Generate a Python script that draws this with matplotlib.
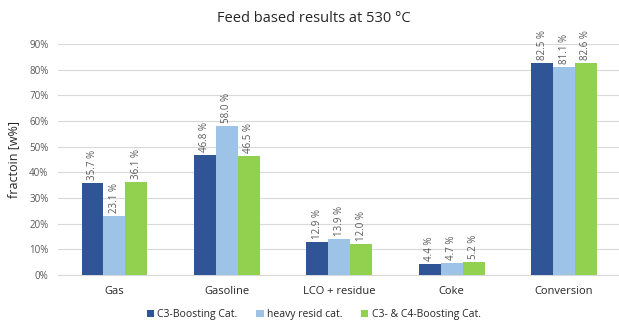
import matplotlib
matplotlib.use("Agg")
import matplotlib.pyplot as plt
import numpy as np
from matplotlib.ticker import FuncFormatter

categories = ["Gas", "Gasoline", "LCO + residue", "Coke", "Conversion"]
series_names = ["C3-Boosting Cat.", "heavy resid cat.", "C3- & C4-Boosting Cat."]
c3_boost = [35.7, 46.8, 12.9, 4.4, 82.5]
heavy_resid = [23.1, 58.0, 13.9, 4.7, 81.1]
c3_c4_boost = [36.1, 46.5, 12.0, 5.2, 82.6]
colors = ["#2F5597", "#9DC3E6", "#92D050"]

plt.rcParams['font.family'] = ['Open Sans', 'DejaVu Sans']

fig = plt.figure(figsize=(6.19, 3.22), dpi=100)
ax = fig.add_axes([0.094, 0.146, 0.908, 0.717])

x = np.arange(len(categories))
w = 0.195
gray = "#595959"
for i, (vals, name, col) in enumerate(zip([c3_boost, heavy_resid, c3_c4_boost], series_names, colors)):
    pos = x + (i - 1) * w
    ax.bar(pos, [v / 100 for v in vals], width=w, color=col, label=name, zorder=3)
    for px, v in zip(pos, vals):
        ax.text(px, v / 100 + 0.012, f"{v:.1f} %", rotation=90, ha="center", va="bottom",
                fontsize=7, color=gray, zorder=4)

ax.set_xlim(-0.5, len(categories) - 0.5)
ax.set_ylim(0, 0.9)
ax.set_yticks(np.arange(0, 0.91, 0.1))
ax.yaxis.set_major_formatter(FuncFormatter(lambda v, p: f"{v*100:.0f}%"))
ax.set_xticks(x)
ax.set_xticklabels(categories)
ax.tick_params(axis="y", length=0, labelsize=7, labelcolor=gray, pad=7)
ax.tick_params(axis="x", length=0, labelsize=8, labelcolor="#262626", pad=8)
ax.grid(axis="y", color="#D9D9D9", linewidth=0.8, zorder=0)
for s in ["top", "right", "left"]:
    ax.spines[s].set_visible(False)
ax.spines["bottom"].set_color("#D9D9D9")

ax.set_ylabel("fractoin [w%]", fontsize=9, color="#262626")
ax.yaxis.set_label_coords(-0.068, 0.5)
fig.text(0.507, 0.944, "Feed based results at 530 °C", ha="center", va="center",
         fontsize=10.5, color="#262626")

fig.legend(loc="center", bbox_to_anchor=(0.507, 0.022), ncol=3, frameon=False,
           fontsize=7.5, handlelength=0.7, handleheight=0.7, handletextpad=0.3,
           columnspacing=1.8, labelcolor="#262626")

fig.savefig("out.png", dpi=100)
